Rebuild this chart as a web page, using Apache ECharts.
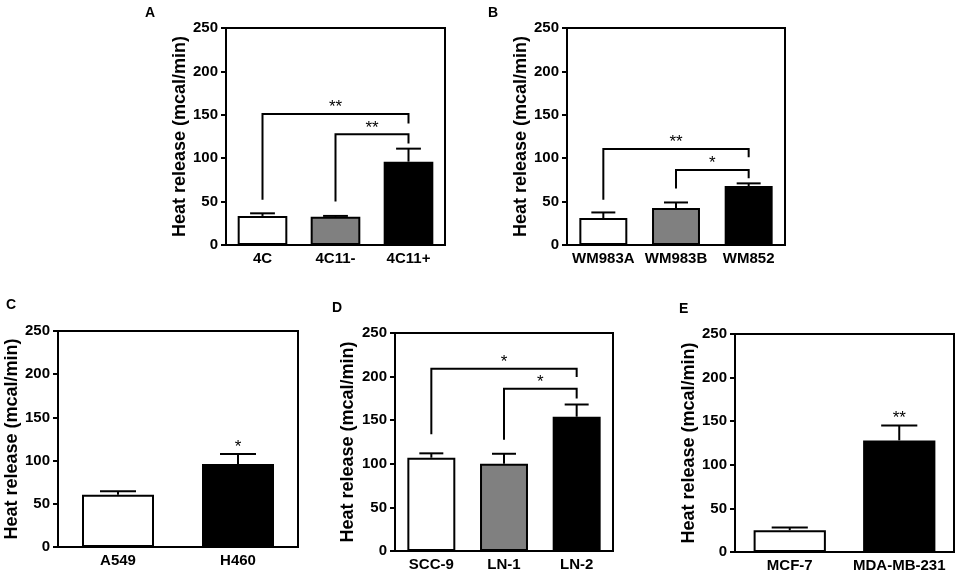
<!DOCTYPE html>
<html><head><meta charset="utf-8">
<script src="https://cdn.jsdelivr.net/npm/echarts@6/dist/echarts.min.js"></script>
<style>html,body{margin:0;padding:0;background:#fff}#c{width:956px;height:578px}</style>
</head><body><div id="c"></div>
<script>
// ---- data ----
const yTicks = [0, 50, 100, 150, 200, 250];
const catsA = ['4C', '4C11-', '4C11+'];
const meanA = [33.5, 32.5, 96];
const errA = [3, 1, 15];
const catsB = ['WM983A', 'WM983B', 'WM852'];
const meanB = [31, 42.5, 68];
const errB = [6.5, 6.5, 3];
const catsC = ['A549', 'H460'];
const meanC = [60.5, 96];
const errC = [4, 11.5];
const catsD = ['SCC-9', 'LN-1', 'LN-2'];
const meanD = [107, 100, 154];
const errD = [5, 11.5, 14];
const catsE = ['MCF-7', 'MDA-MB-231'];
const meanE = [25, 128];
const errE = [3, 17];
const colorsA = ['#ffffff', '#808080', '#000000'];
const colorsB = ['#ffffff', '#808080', '#000000'];
const colorsC = ['#ffffff', '#000000'];
const colorsD = ['#ffffff', '#808080', '#000000'];
const colorsE = ['#ffffff', '#000000'];
// brackets: [fromCat, toCat, lineValue, leftLegBottom, rightLegBottom, label]
const bracketsA = [[0, 2, 151, 52, 140, '**'], [1, 2, 127.5, 50, 117, '**']];
const bracketsB = [[0, 2, 110.5, 52, 101, '**'], [1, 2, 86.5, 65, 77, '*']];
const bracketsD = [[0, 2, 209, 134, 199.5, '*'], [1, 2, 186, 127.5, 175, '*']];
// single-bar marks: [cat, label]
const marksC = [[1, '*']];
const marksE = [[1, '**']];
const panelLetters = ['A', 'B', 'C', 'D', 'E'];

const FONT = '"Liberation Sans", Arial, sans-serif';
const panels = [
  {cats: catsA, mean: meanA, err: errA, colors: colorsA, brackets: bracketsA, marks: [], grid: {left: 226, top: 28, width: 219, height: 217}, bw: 0.68, letter: {left: 145, top: 6}, gap: 37},
  {cats: catsB, mean: meanB, err: errB, colors: colorsB, brackets: bracketsB, marks: [], grid: {left: 567, top: 28, width: 218, height: 217}, bw: 0.66, letter: {left: 488, top: 6}, gap: 37},
  {cats: catsC, mean: meanC, err: errC, colors: colorsC, brackets: [], marks: marksC, grid: {left: 58, top: 331, width: 240, height: 216}, bw: 0.60, letter: {left: 6, top: 298}, gap: 35},
  {cats: catsD, mean: meanD, err: errD, colors: colorsD, brackets: bracketsD, marks: [], grid: {left: 395, top: 333, width: 218, height: 218}, bw: 0.66, letter: {left: 332, top: 301}, gap: 38},
  {cats: catsE, mean: meanE, err: errE, colors: colorsE, brackets: [], marks: marksE, grid: {left: 735, top: 334, width: 219, height: 218}, bw: 0.66, letter: {left: 679, top: 302}, gap: 37}
];

const option = {
  animation: false,
  backgroundColor: '#fff',
  textStyle: {fontFamily: FONT},
  title: [], grid: [], xAxis: [], yAxis: [], series: []
};

panels.forEach((p, i) => {
  option.title.push({text: panelLetters[i], left: p.letter.left, top: p.letter.top, padding: 0,
    textStyle: {fontFamily: FONT, fontSize: 14, fontWeight: 'bold', color: '#000'}});
  option.grid.push(Object.assign({show: true, borderColor: '#000', borderWidth: 2, backgroundColor: 'transparent', containLabel: false}, p.grid));
  option.xAxis.push({type: 'category', gridIndex: i, data: p.cats,
    axisLine: {lineStyle: {color: '#000', width: 2}},
    axisTick: {alignWithLabel: true, length: 5, lineStyle: {color: '#000', width: 2}},
    axisLabel: {color: '#000', fontFamily: FONT, fontSize: 15, fontWeight: 'bold', margin: 6, interval: 0},
    splitLine: {show: false}});
  option.yAxis.push({type: 'value', gridIndex: i, min: yTicks[0], max: yTicks[yTicks.length - 1], interval: yTicks[1] - yTicks[0],
    name: 'Heat release (mcal/min)', nameLocation: 'middle', nameGap: p.gap,
    nameTextStyle: {color: '#000', fontFamily: FONT, fontSize: 18, fontWeight: 'bold'},
    axisLine: {show: true, lineStyle: {color: '#000', width: 2}},
    axisTick: {show: true, length: 5, lineStyle: {color: '#000', width: 2}},
    axisLabel: {color: '#000', fontFamily: FONT, fontSize: 15, fontWeight: 'bold', margin: 8},
    splitLine: {show: false}});
  option.series.push({type: 'bar', xAxisIndex: i, yAxisIndex: i, barWidth: (p.bw * 100) + '%',
    data: p.mean.map((v, k) => ({value: v, itemStyle: {color: p.colors[k], borderColor: '#000', borderWidth: 2}})),
    z: 2});
  const bw = p.bw;
  option.series.push({type: 'custom', xAxisIndex: i, yAxisIndex: i, z: 3,
    data: p.mean.map((v, k) => [k, v, p.err[k]]),
    renderItem: function (params, api) {
      const k = api.value(0), m = api.value(1), e = api.value(2);
      const b = api.coord([k, m]), t = api.coord([k, m + e]);
      const hw = api.size([1, 0])[0] * bw * 0.25;
      return {type: 'group', children: [
        {type: 'line', shape: {x1: b[0], y1: b[1], x2: t[0], y2: t[1]}, style: {stroke: '#000', lineWidth: 2}},
        {type: 'line', shape: {x1: t[0] - hw, y1: t[1], x2: t[0] + hw, y2: t[1]}, style: {stroke: '#000', lineWidth: 2}}
      ]};
    }});
  if (p.brackets.length) {
    option.series.push({type: 'custom', xAxisIndex: i, yAxisIndex: i, z: 4,
      data: p.brackets,
      renderItem: function (params, api) {
        const d = p.brackets[params.dataIndex];
        const a = api.coord([d[0], d[3]]), a2 = api.coord([d[0], d[2]]);
        const c2 = api.coord([d[1], d[2]]), c = api.coord([d[1], d[4]]);
        return {type: 'group', children: [
          {type: 'polyline', shape: {points: [a, a2, c2, c]}, style: {stroke: '#000', lineWidth: 2, fill: null}},
          {type: 'text', x: (a2[0] + c2[0]) / 2, y: a2[1] - 6.5,
            style: {text: d[5], fill: '#000', font: '17px ' + FONT, align: 'center', verticalAlign: 'middle'}}
        ]};
      }});
  }
  if (p.marks.length) {
    option.series.push({type: 'custom', xAxisIndex: i, yAxisIndex: i, z: 4,
      data: p.marks,
      renderItem: function (params, api) {
        const d = p.marks[params.dataIndex];
        const k = d[0];
        const t = api.coord([k, p.mean[k] + p.err[k]]);
        return {type: 'text', x: t[0], y: t[1] - 7,
          style: {text: d[1], fill: '#000', font: '17px ' + FONT, align: 'center', verticalAlign: 'middle'}};
      }});
  }
});

const chart = echarts.init(document.getElementById('c'));
chart.setOption(option);
</script>
</body></html>
